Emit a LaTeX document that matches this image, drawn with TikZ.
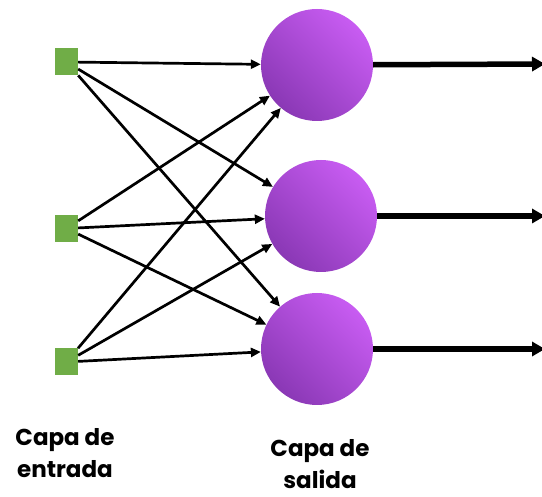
\documentclass[tikz,border=0pt]{standalone}
\usepackage{fontspec}
\setmainfont{Poppins}
\usetikzlibrary{arrows.meta}
\definecolor{sqgreen}{HTML}{70AD47}
\definecolor{plight}{HTML}{C85CF2}
\definecolor{pdark}{HTML}{8A38B5}
\tikzset{
  inp/.style={fill=sqgreen, draw=none, minimum width=23pt, minimum height=27pt, inner sep=0pt},
  neuron/.style={circle, minimum size=112pt, inner sep=0pt, draw=none, shading=axis, top color=plight, bottom color=pdark, shading angle=-45},
  conn/.style={-{Triangle[length=10pt,width=9pt]}, line width=2.7pt, black},
  outarr/.style={-{Triangle[length=13pt,width=14pt]}, line width=5.5pt, black},
  lbl/.style={font=\bfseries\fontsize{23pt}{32pt}\selectfont, align=center, inner sep=0pt}
}
\begin{document}
\begin{tikzpicture}[x=1pt,y=-1pt]
\useasboundingbox (0,0) rectangle (542,497);
\node[inp] (i1) at (66.5,62) {};
\node[inp] (i2) at (66.5,228.5) {};
\node[inp] (i3) at (66.5,362) {};
\node[neuron] (o1) at (317,65) {};
\node[neuron] (o2) at (321,216) {};
\node[neuron] (o3) at (317,349) {};
\coordinate (e1) at (545,64);
\coordinate (e2) at (545,216);
\coordinate (e3) at (545,349);
\foreach \a in {i1,i2,i3}{
  \foreach \b in {o1,o2,o3}{
    \draw[conn] (\a) -- (\b);
  }
}
\draw[outarr] (o1) -- (e1);
\draw[outarr] (o2) -- (e2);
\draw[outarr] (o3) -- (e3);
\node[lbl] (l1) at (65,453) {Capa de\\entrada};
\node[lbl] (l2) at (320,464) {Capa de\\salida};
\end{tikzpicture}
\end{document}
